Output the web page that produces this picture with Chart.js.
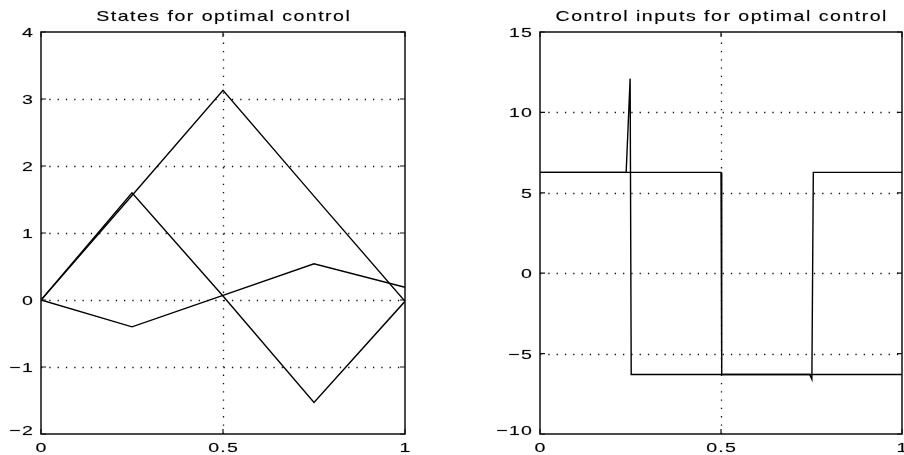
<!DOCTYPE html>
<html>
<head>
<meta charset="utf-8">
<title>States and control inputs for optimal control</title>
<script src="https://cdn.jsdelivr.net/npm/chart.js@4.4.0/dist/chart.umd.min.js"></script>
<style>
  body { margin: 0; background: #fff; }
  canvas { position: absolute; top: 0; }
  #states { left: 0; }
  #inputs { left: 452px; }
</style>
</head>
<body>
<canvas id="states" width="452" height="455"></canvas>
<canvas id="inputs" width="452" height="455"></canvas>
<script>
// left panel: three states, sampled at the switching times
const stateTime = [0, 0.25, 0.5, 0.75, 1];
const state1 = [0, 1.56, 3.13, 1.55, -0.02];
const state2 = [0, 1.60, 0.06, -1.53, -0.02];
const state3 = [0, -0.40, 0.07, 0.54, 0.19];
const stateXTicks = [0, 0.5, 1];
const stateYTicks = [-2, -1, 0, 1, 2, 3, 4];

// right panel: two bang-bang control inputs
const input1Time = [0, 0.5, 0.502, 0.745, 0.751, 0.755, 1];
const input1 = [6.27, 6.27, -6.3, -6.3, -6.6, 6.27, 6.27];
const input2Time = [0, 0.238, 0.249, 0.252, 1];
const input2 = [6.27, 6.27, 12.1, -6.3, -6.3];
const inputXTicks = [0, 0.5, 1];
const inputYTicks = [-10, -5, 0, 5, 10, 15];

const FONT = '"Liberation Sans", Arial, Helvetica, sans-serif';

function toPoints(xs, ys) {
  return xs.map((x, i) => ({ x: x, y: ys[i] }));
}

function fmt(v) {
  return v < 0 ? '\u2212' + Math.abs(v) : String(v);
}

// scanned matlab text is wide, so stretch it horizontally
function wideText(ctx, text, x, y, align, size, stretch, spacing) {
  ctx.save();
  ctx.font = size + 'px ' + FONT;
  ctx.letterSpacing = spacing + 'px';
  const w = (ctx.measureText(text).width - spacing) * stretch;
  let left = x;
  if (align === 'center') left = x - w / 2;
  if (align === 'right') left = x - w;
  ctx.translate(left, y);
  ctx.scale(stretch, 1);
  ctx.textAlign = 'left';
  ctx.textBaseline = 'alphabetic';
  ctx.fillStyle = '#000';
  ctx.strokeStyle = 'rgba(0,0,0,0.35)';
  ctx.lineWidth = 0.4;
  ctx.fillText(text, 0, 0);
  ctx.strokeText(text, 0, 0);
  ctx.restore();
}

const matlabAxes = {
  id: 'matlabAxes',
  beforeDatasetsDraw(chart, args, opts) {
    const { ctx, chartArea: a, scales: { x, y } } = chart;
    ctx.save();
    ctx.strokeStyle = '#111';
    ctx.lineWidth = 1.3;
    ctx.setLineDash([1.3, 7]);
    opts.xTicks.forEach(v => {
      if (v === x.min || v === x.max) return;
      const px = Math.round(x.getPixelForValue(v)) + 0.5;
      ctx.beginPath();
      ctx.moveTo(px, a.bottom);
      ctx.lineTo(px, a.top);
      ctx.stroke();
    });
    opts.yTicks.forEach(v => {
      if (v === y.min || v === y.max) return;
      const py = Math.round(y.getPixelForValue(v)) + 0.5;
      ctx.beginPath();
      ctx.moveTo(a.left, py);
      ctx.lineTo(a.right, py);
      ctx.stroke();
    });
    ctx.restore();
  },
  afterDraw(chart, args, opts) {
    const { ctx, chartArea: a, scales: { x, y } } = chart;
    ctx.save();
    ctx.strokeStyle = '#111';
    ctx.lineWidth = 1.5;
    ctx.strokeRect(a.left, a.top, a.right - a.left, a.bottom - a.top);
    // inward tick marks on all four sides
    ctx.lineWidth = 1.2;
    const len = 5;
    ctx.beginPath();
    opts.xTicks.forEach(v => {
      const px = x.getPixelForValue(v);
      ctx.moveTo(px, a.bottom); ctx.lineTo(px, a.bottom - len);
      ctx.moveTo(px, a.top); ctx.lineTo(px, a.top + len);
    });
    opts.yTicks.forEach(v => {
      const py = y.getPixelForValue(v);
      ctx.moveTo(a.left, py); ctx.lineTo(a.left + len, py);
      ctx.moveTo(a.right, py); ctx.lineTo(a.right - len, py);
    });
    ctx.stroke();
    ctx.restore();

    opts.xTicks.forEach(v => {
      wideText(ctx, fmt(v), x.getPixelForValue(v), a.bottom + 18, 'center', 13.5, 1.45, 0.8);
    });
    opts.yTicks.forEach((v, i) => {
      let py = y.getPixelForValue(v) + 5;
      if (i === 0) py -= 4;
      wideText(ctx, fmt(v), a.left - 8, py, 'right', 13.5, 1.45, 0.8);
    });
    wideText(ctx, opts.title, (a.left + a.right) / 2, 21, 'center', 14.5, 1.35, 1.1);
  }
};

function makeChart(id, datasets, xTicks, yTicks, yMin, yMax, title, padding) {
  return new Chart(document.getElementById(id).getContext('2d'), {
    type: 'scatter',
    data: { datasets: datasets },
    options: {
      responsive: false,
      animation: false,
      devicePixelRatio: 1,
      layout: { padding: padding },
      elements: {
        line: { borderColor: '#000', borderWidth: 1.4, tension: 0 },
        point: { radius: 0, hoverRadius: 0 }
      },
      scales: {
        x: { type: 'linear', min: 0, max: 1, display: false },
        y: { type: 'linear', min: yMin, max: yMax, display: false }
      },
      plugins: {
        legend: { display: false },
        tooltip: { enabled: false },
        matlabAxes: { xTicks: xTicks, yTicks: yTicks, title: title }
      }
    },
    plugins: [matlabAxes]
  });
}

function lineSet(xs, ys) {
  return { data: toPoints(xs, ys), showLine: true, borderColor: '#000', borderWidth: 1.4, pointRadius: 0 };
}

makeChart('states',
  [lineSet(stateTime, state1), lineSet(stateTime, state2), lineSet(stateTime, state3)],
  stateXTicks, stateYTicks, -2, 4, 'States for optimal control',
  { left: 41, right: 47, top: 32, bottom: 21 });

makeChart('inputs',
  [lineSet(input1Time, input1), lineSet(input2Time, input2)],
  inputXTicks, inputYTicks, -10, 15, 'Control inputs for optimal control',
  { left: 88, right: 2, top: 32, bottom: 21 });
</script>
</body>
</html>
